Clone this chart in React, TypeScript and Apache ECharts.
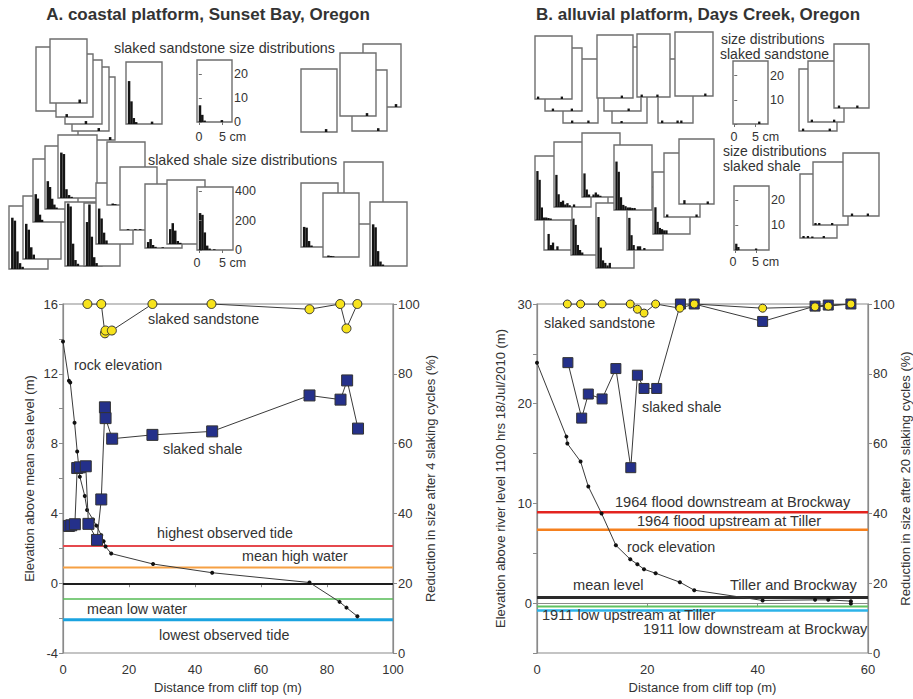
import React, { useEffect, useRef } from 'react';
import * as echarts from 'echarts';

// ---------------- Panel A (coastal platform, Sunset Bay) ----------------
const rockA: number[][] = [[0, 13.85], [1.8, 11.6], [2.2, 11.5], [3.5, 9.2], [4.3, 7.55], [5.1, 6.1], [6.6, 5.0], [7.3, 4.2], [9.1, 3.65], [10.1, 3.3], [11.6, 2.75], [12.3, 2.4], [12.9, 2.1], [14.6, 1.7], [27.3, 1.1], [45.2, 0.6], [74.7, 0.04], [83.8, -1.07], [85.9, -1.4], [89.2, -1.9]];
const sandA: number[][] = [[7.4, 100], [11.6, 100], [12.7, 91.6], [12.9, 92.4], [14.8, 92.4], [27.1, 100], [45, 100], [74.7, 98.5], [84, 100], [85.9, 93], [89.2, 100]];
const shaleA: number[][] = [[1.8, 36.4], [2.5, 36.6], [3.6, 36.9], [4.3, 53.0], [5.1, 53.2], [6.9, 53.5], [7.7, 37.0], [10.3, 32.4], [11.6, 44.0], [12.7, 70.4], [12.9, 67.3], [14.9, 61.4], [27.1, 62.5], [45.2, 63.5], [74.7, 73.8], [84.1, 72.6], [86.1, 78.1], [89.4, 64.3]];
const tideLevelsA = [2.13, 0.9, -0.05, -0.9, -2.1];
const tideNamesA = ['highest observed tide', 'mean high water', 'mean sea level', 'mean low water', 'lowest observed tide'];
const distanceRangeA = [0, 100];

// ---------------- Panel B (alluvial platform, Days Creek) ----------------
const rockB: number[][] = [[0, 24.1], [5.33, 16.7], [5.5, 16.0], [7.9, 14.2], [9.3, 11.7], [11.7, 9.0], [14.3, 5.8], [16.9, 4.4], [18.2, 3.9], [19.4, 3.4], [21.5, 3.0], [25.9, 2.1], [28.5, 1.3], [40.9, 0.27], [50.4, 0.33], [52.8, 0.33], [56.9, 0.2], [56.9, -0.05]];
const sandB: number[][] = [[5.5, 100], [7.9, 100], [11.8, 100], [16.9, 100], [18.2, 98.5], [19.4, 97.4], [21.5, 100], [25.9, 98.8], [28.5, 100], [40.9, 98.8], [50.4, 99.2], [52.8, 99.4], [56.9, 100]];
const shaleB: number[][] = [[5.6, 83.2], [8.1, 67.3], [9.3, 74.2], [11.8, 72.8], [14.3, 81.5], [17.0, 53.1], [18.2, 79.6], [19.4, 75.8], [21.7, 75.8], [26.0, 100], [28.5, 100], [40.9, 95], [50.4, 99.4], [52.8, 99.7], [56.9, 100]];
const riverLevelsB = [9.12, 7.35, 0.57, -0.33, -0.74];
const riverNamesB = ['1964 flood downstream at Brockway', '1964 flood upstream at Tiller', 'mean level', '1911 low upstream at Tiller', '1911 low downstream at Brockway'];
const distanceRangeB = [0, 60];

// ---------------- Inset size distributions: [size bin (cm), count] ----------------
const sandHistA: number[][][] = [
  [[6.2, 1.2]], [[5.1, 1.2]], [[3.9, 1.2]], [], [[1.8, 1.2]], [[5.7, 1.4]],
  [[0.25, 18], [0.75, 9.5], [1.25, 2.5], [1.75, 0.8], [5.1, 1]],
  [[0.25, 7], [0.75, 3], [1.25, 0.6], [5.0, 0.8]],
  [[6.2, 1.2]], [[5.3, 1.2]], [[5.3, 1.2]], [[4.9, 1.2]],
];
const shaleHistA: number[][][] = [
  [[0.25, 350], [0.75, 330], [1.25, 120], [1.75, 40], [2.25, 15]],
  [[0.25, 240], [0.75, 200], [1.25, 80], [1.75, 30]],
  [[0.25, 190], [0.75, 160], [1.25, 50], [1.75, 15]],
  [[0.25, 190], [0.75, 150], [1.25, 70], [1.75, 30], [2.25, 10]],
  [[0.25, 310], [0.75, 300], [1.25, 60], [1.75, 20], [2.25, 8]],
  [[0.25, 420], [0.75, 400], [1.25, 150], [1.75, 40], [2.25, 15]],
  [[0.25, 300], [0.75, 420], [1.25, 200], [1.75, 60], [2.25, 20]],
  [[0.25, 250], [0.75, 180], [1.25, 80], [1.75, 25]],
  [[0.75, 10], [1.25, 6]],
  [[1.25, 6], [2.75, 6], [3.75, 6]],
  [[0.25, 40], [0.75, 60], [1.25, 20], [1.75, 8], [3.25, 5]],
  [[0.25, 100], [0.75, 140], [1.25, 90], [1.75, 20], [2.25, 8]],
  [[0.25, 252], [0.75, 240], [1.25, 120], [1.75, 30], [2.25, 10], [3.25, 5]],
  [[0.25, 135], [0.75, 130], [1.25, 40], [1.75, 10]],
  [[0.75, 25], [1.25, 40], [1.75, 20], [2.25, 8]],
  [[0.75, 10], [1.25, 7], [1.75, 5]],
  [[0.25, 280], [0.75, 260], [1.25, 100], [1.75, 30], [2.25, 10]],
];
const sandHistB: number[][][] = [
  [[1.9, 1], [5.8, 1]], [[1.5, 1], [5.8, 1]], [[0.4, 1], [5.8, 1]],
  [[2.0, 0.8]], [[5.3, 1]], [[5.5, 1]],
  [[0.7, 1], [4.4, 1], [5.3, 1]], [[0.9, 1], [4.9, 1]], [[6.4, 1]],
  [[6.0, 1]],
  [[0.6, 1], [6.5, 1]], [[0.6, 1], [5.8, 1]], [[0.9, 1], [5.3, 1]],
];
const shaleHistB: number[][][] = [
  [[0.75, 6.5], [1.25, 2], [1.75, 3], [2.75, 1.5]],
  [[0.25, 14.5], [0.75, 12], [1.25, 4], [1.75, 2], [2.25, 1]],
  [[0.25, 19.5], [0.75, 16], [1.25, 5], [1.75, 1], [2.25, 1], [2.75, 0.8], [3.25, 0.6]],
  [[0.25, 12.6], [0.75, 5], [1.25, 2], [1.75, 2.5], [2.25, 1], [2.75, 1.5], [3.25, 0.7], [4.25, 1]],
  [[0.25, 9.4], [0.75, 3], [1.25, 1], [2.25, 1], [2.75, 1.8], [3.25, 1], [3.75, 0.5]],
  [[0.25, 20], [0.75, 8], [1.25, 3], [1.75, 2], [2.25, 1], [2.75, 2]],
  [[0.25, 13], [0.75, 6], [1.25, 2], [2.25, 1.5], [2.75, 1.5], [3.75, 0.8]],
  [[0.25, 19], [0.75, 15], [1.25, 5], [1.75, 2], [2.25, 1.5], [2.75, 1], [3.25, 1], [3.75, 0.8], [4.25, 0.8]],
  [[0.25, 11], [0.75, 5], [1.25, 2.5], [1.75, 2], [2.25, 1.5], [2.75, 1.5]],
  [[0.45, 1], [7.3, 1]],
  [[1.0, 1.5], [6.6, 1]],
  [[0.25, 2.5], [0.75, 1.2], [5.0, 0.6]],
  [[0.5, 0.8], [1.5, 0.8], [2.5, 0.6], [5.1, 0.8]],
  [[0.3, 0.8], [1.2, 0.8], [4.3, 0.8]],
  [[1.8, 1], [5.5, 1]],
];

// ---------------- Layout (pixels) ----------------
const sandBoxesA = [[78, 77, 37, 63], [72, 67, 37, 64], [65, 60, 37, 64], [36, 47, 37, 64], [56, 54, 37, 63], [50, 39, 37, 64], [126, 62, 36, 62], [197, 60, 35, 62], [363, 44, 38, 63], [352, 70, 35, 61], [340, 53, 36, 63], [301, 69, 36, 63]];
const shaleBoxesA = [[9, 206, 39, 63], [23, 196, 38, 63], [33, 159, 32, 63], [45, 146, 33, 63], [58, 135, 39, 63], [65, 202, 37, 64], [84, 203, 36, 63], [96, 183, 37, 61], [107, 142, 38, 63], [120, 167, 37, 63], [145, 184, 37, 64], [167, 180, 38, 64], [197, 187, 36, 63], [301, 183, 37, 64], [344, 162, 39, 62], [323, 193, 36, 64], [370, 202, 37, 64]];
const sandBoxesB = [[563, 59, 35, 64], [545, 48, 37, 63], [535, 36, 37, 63], [612, 59, 35, 64], [604, 47, 37, 64], [597, 35, 36, 63], [658, 59, 35, 64], [637, 34, 33, 63], [675, 32, 38, 64], [733, 61, 35, 63], [799, 69, 38, 62], [808, 61, 36, 61], [834, 44, 35, 64]];
const shaleBoxesB = [[544, 187, 37, 63], [571, 191, 37, 64], [535, 156, 37, 64], [554, 142, 37, 65], [582, 133, 38, 64], [596, 203, 38, 65], [627, 187, 36, 63], [614, 145, 38, 65], [653, 172, 37, 62], [664, 153, 36, 64], [679, 139, 35, 65], [734, 186, 35, 64], [800, 174, 37, 64], [813, 162, 35, 63], [843, 153, 36, 63]];

const FONT = '"Liberation Sans", Arial, Helvetica, sans-serif';
const TXT = '#333';
const AX = '#8a8a8a';
const LBL = 14.3;

type Group = { hists: number[][][]; boxes: number[][]; yMax: number; yInt: number; xr: number[]; labeled: number; showZero: boolean; bw: number };

const groups: Group[] = [
  { hists: sandHistA, boxes: sandBoxesA, yMax: 26, yInt: 10, xr: [-0.4, 7.2], labeled: 7, showZero: true, bw: 2.5 },
  { hists: shaleHistA, boxes: shaleBoxesA, yMax: 430, yInt: 200, xr: [-0.4, 7.2], labeled: 12, showZero: true, bw: 2.5 },
  { hists: sandHistB, boxes: sandBoxesB, yMax: 26, yInt: 10, xr: [-0.3, 8.1], labeled: 9, showZero: false, bw: 2.3 },
  { hists: shaleHistB, boxes: shaleBoxesB, yMax: 25.5, yInt: 10, xr: [-0.3, 8.1], labeled: 11, showZero: false, bw: 2.3 },
];

function levelSeries(levels: number[], names: string[], range: number[], colors: string[], widths: number[], xi: number, yi: number) {
  return levels.map((v, i) => ({
    type: 'line', name: names[i], xAxisIndex: xi, yAxisIndex: yi,
    data: [[range[0], v], [range[1], v]], symbol: 'none', silent: true, z: 2,
    lineStyle: { color: colors[i], width: widths[i] },
  }));
}

function pointSeries(data: number[][], xi: number, yi: number, kind: 'rock' | 'sand' | 'shale', size: number) {
  const sym = kind === 'shale' ? 'rect' : 'circle';
  const fill = kind === 'rock' ? '#111' : kind === 'sand' ? '#f7e31c' : '#24308a';
  return {
    type: 'line', xAxisIndex: xi, yAxisIndex: yi, data, symbol: sym, symbolSize: size, showSymbol: true,
    z: kind === 'rock' ? 4 : kind === 'shale' ? 5 : 6,
    lineStyle: { color: '#3a3a3a', width: 1 },
    itemStyle: { color: fill, borderColor: kind === 'rock' ? '#111' : '#333', borderWidth: kind === 'rock' ? 0 : 1 },
  };
}

function txt(text: string, x: number, y: number, size = LBL, align = 'left', bold = false) {
  return {
    type: 'text', x, y, z: 200, silent: true,
    style: { text, fill: TXT, font: `${bold ? 'bold ' : ''}${size}px ${FONT}`, align, verticalAlign: 'middle' },
  };
}

function buildOption() {
  const axisCommon = {
    axisLine: { show: true, lineStyle: { color: AX, width: 1.2 } },
    axisTick: { show: true, length: 4, lineStyle: { color: AX } },
    splitLine: { show: false },
    axisLabel: { fontSize: 13, color: TXT, fontFamily: FONT, margin: 5 },
    nameTextStyle: { fontSize: 13, color: TXT, fontFamily: FONT },
  };
  const xLabel = { ...axisCommon.axisLabel, margin: 10 };
  const grid: any[] = [
    { left: 63, top: 304, width: 330, height: 350, show: true, borderColor: AX, borderWidth: 1.2, backgroundColor: 'transparent' },
    { left: 537, top: 304, width: 331, height: 351, show: true, borderColor: AX, borderWidth: 1.2, backgroundColor: 'transparent' },
  ];
  const xAxis: any[] = [
    { ...axisCommon, axisLabel: xLabel, gridIndex: 0, type: 'value', min: distanceRangeA[0], max: distanceRangeA[1], interval: 20, name: 'Distance from cliff top (m)', nameLocation: 'middle', nameGap: 28 },
    { ...axisCommon, axisLabel: xLabel, gridIndex: 1, type: 'value', min: distanceRangeB[0], max: distanceRangeB[1], interval: 20, name: 'Distance from cliff top (m)', nameLocation: 'middle', nameGap: 28 },
  ];
  const yAxis: any[] = [
    { ...axisCommon, gridIndex: 0, type: 'value', min: -4, max: 16, interval: 2, position: 'left',
      axisLabel: { ...axisCommon.axisLabel, formatter: (v: number) => (v % 4 === 0 ? String(v) : '') },
      name: 'Elevation above mean sea level (m)', nameLocation: 'middle', nameRotate: 90, nameGap: 27 },
    { ...axisCommon, gridIndex: 0, type: 'value', min: 0, max: 100, interval: 20, position: 'right',
      name: 'Reduction in size after 4 slaking cycles (%)', nameLocation: 'middle', nameRotate: 90, nameGap: 26 },
    { ...axisCommon, gridIndex: 1, type: 'value', min: -5, max: 30, interval: 5, position: 'left',
      axisLabel: { ...axisCommon.axisLabel, formatter: (v: number) => (v % 10 === 0 ? String(v) : '') },
      name: 'Elevation above river level 1100 hrs 18/Jul/2010 (m)', nameLocation: 'middle', nameRotate: 90, nameGap: 30 },
    { ...axisCommon, gridIndex: 1, type: 'value', min: 0, max: 100, interval: 20, position: 'right',
      name: 'Reduction in size after 20 slaking cycles (%)', nameLocation: 'middle', nameRotate: 90, nameGap: 28 },
  ];
  const series: any[] = [
    ...levelSeries(tideLevelsA, tideNamesA, distanceRangeA, ['#e5484d', '#f6a043', '#1e1e1e', '#55bb55', '#1aa3e0'], [2, 2, 2, 1.5, 3], 0, 0),
    pointSeries(rockA, 0, 0, 'rock', 4),
    pointSeries(shaleA, 0, 1, 'shale', 11),
    pointSeries(sandA, 0, 1, 'sand', 9),
    ...levelSeries(riverLevelsB, riverNamesB, distanceRangeB, ['#e3241f', '#f5801e', '#2a2a2a', '#5fc15f', '#2cb3e8'], [2.5, 2.5, 3, 2, 2.5], 1, 2),
    pointSeries(rockB, 1, 2, 'rock', 4),
    pointSeries(shaleB, 1, 3, 'shale', 10),
    pointSeries(sandB, 1, 3, 'sand', 8),
  ];

  let k = 0;
  groups.forEach((g) => {
    g.boxes.forEach((b, i) => {
      const zb = 10 + 3 * k;
      const gi = 2 + k;
      const labeled = i === g.labeled;
      grid.push({ left: b[0], top: b[1], width: b[2], height: b[3], show: true, backgroundColor: '#fff', borderColor: '#6e6e6e', borderWidth: 1.4, z: zb });
      xAxis.push({
        gridIndex: gi, type: 'value', min: g.xr[0], max: g.xr[1], show: labeled, z: zb + 2,
        axisLine: { show: false }, axisLabel: { show: false }, splitLine: { show: false },
        axisTick: { show: labeled, length: 3, customValues: [0, 5], lineStyle: { color: '#6e6e6e' } },
      });
      yAxis.push({
        gridIndex: gi, type: 'value', min: 0, max: g.yMax, interval: g.yInt, position: 'right', show: labeled, z: zb + 2,
        axisLine: { show: false }, splitLine: { show: false },
        axisTick: { show: labeled, length: 3, lineStyle: { color: '#6e6e6e' } },
        axisLabel: {
          show: labeled, fontSize: 12.5, color: TXT, fontFamily: FONT, margin: 2, showMaxLabel: false,
          formatter: (v: number) => (v % g.yInt === 0 && (g.showZero || v > 0) && v < g.yMax ? String(v) : ''),
        },
      });
      series.push({
        type: 'bar', xAxisIndex: gi, yAxisIndex: 4 + k, data: g.hists[i] || [], barWidth: g.bw, silent: true,
        itemStyle: { color: '#141414' }, z: zb + 1,
      });
      k++;
    });
  });

  const graphic = [
    txt('A. coastal platform, Sunset Bay, Oregon', 208, 14, 17, 'center', true),
    txt('B. alluvial platform, Days Creek, Oregon', 698, 14, 17, 'center', true),
    txt('slaked sandstone size distributions', 114, 48),
    txt('slaked shale size distributions', 148, 160),
    txt('0', 199, 137, 12.5, 'center'), txt('5 cm', 219, 137, 12.5),
    txt('0', 197, 263, 12.5, 'center'), txt('5 cm', 219, 263, 12.5),
    txt('size distributions', 721, 39, 14), txt('slaked sandstone', 720, 54, 14),
    txt('size distributions', 723, 151, 14), txt('slaked shale', 723, 166, 14),
    txt('0', 734, 137, 12.5, 'center'), txt('5 cm', 752, 137, 12.5),
    txt('0', 733, 262, 12.5, 'center'), txt('5 cm', 752, 262, 12.5),
    // panel A chart labels
    txt('slaked sandstone', 148, 319), txt('rock elevation', 74, 365), txt('slaked shale', 163, 449),
    txt(tideNamesA[0], 157, 533), txt(tideNamesA[1], 242, 556), txt(tideNamesA[3], 87, 609), txt(tideNamesA[4], 159, 635),
    // panel B chart labels
    txt('slaked sandstone', 544, 323), txt('slaked shale', 642, 407), txt('rock elevation', 627, 547),
    txt(riverNamesB[0], 615, 502, 14.6), txt(riverNamesB[1], 637, 521, 14.6),
    txt(riverNamesB[2], 573, 585, 14.6), txt('Tiller and Brockway', 730, 585, 14.6),
    txt(riverNamesB[3], 542, 615, 14.6), txt(riverNamesB[4], 643, 629, 14.6),
  ];

  return {
    animation: false,
    backgroundColor: '#fff',
    textStyle: { fontFamily: FONT },
    grid, xAxis, yAxis, series, graphic,
  };
}

export default function App() {
  const ref = useRef<HTMLDivElement>(null);
  useEffect(() => {
    const chart = echarts.init(ref.current!, undefined, { renderer: 'svg' });
    chart.setOption(buildOption() as any);
    return () => chart.dispose();
  }, []);
  return <div ref={ref} style={{ position: 'fixed', left: 0, top: 0, width: 913, height: 699, background: '#fff' }} />;
}
